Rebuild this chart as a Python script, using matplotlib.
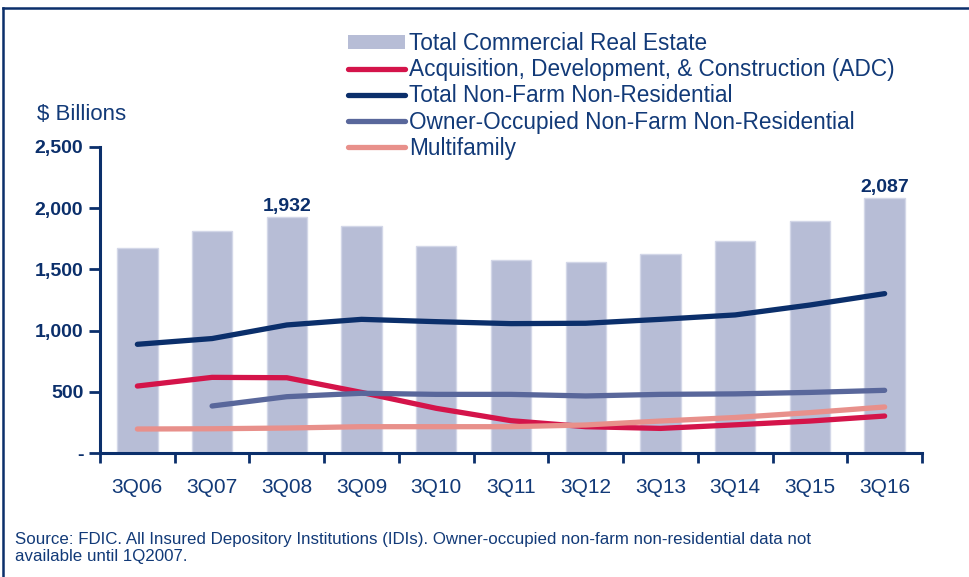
import numpy as np
import matplotlib
matplotlib.use("Agg")
from matplotlib import pyplot, ticker
from matplotlib.lines import Line2D
from matplotlib.patches import Patch

quarters = ["3Q06", "3Q07", "3Q08", "3Q09", "3Q10", "3Q11",
            "3Q12", "3Q13", "3Q14", "3Q15", "3Q16"]
totalCre = [1675, 1814, 1932, 1857, 1689, 1580, 1558, 1623, 1732, 1896, 2087]
adc = [547, 618, 615, 495, 365, 264, 215, 201, 230, 261, 302]
nonFarmNonRes = [888, 935, 1046, 1092, 1073, 1057, 1060, 1092, 1128, 1209, 1302]
ownerOccupied = [np.nan, 384, 460, 488, 479, 479, 466, 479, 483, 495, 512]
multifamily = [196, 198, 204, 215, 215, 215, 229, 261, 290, 330, 376]
labelledBars = [2, 10]

navy = "#0b2f6b"
textColor = "#123a78"
barColor = "#b7bdd6"
redColor = "#d4144a"
ownerColor = "#59679b"
multiColor = "#e8908b"

sans = ["Liberation Sans", "DejaVu Sans"]
narrow = ["Liberation Sans Narrow", "Liberation Sans", "DejaVu Sans"]
pyplot.rcParams["font.family"] = sans

fig = pyplot.figure(figsize=(9.69, 5.77), dpi=100)
ax = fig.add_axes([100 / 969, 1 - 453 / 577, 822 / 969, 306 / 577])

x = np.arange(len(quarters))
ax.bar(x, totalCre, width=0.54, color=barColor, edgecolor="#d3d7e8", linewidth=1, zorder=1)

lineStyle = dict(linewidth=3.8, solid_capstyle="round", solid_joinstyle="round", zorder=3)
ax.plot(x, adc, color=redColor, **lineStyle)
ax.plot(x, nonFarmNonRes, color=navy, **lineStyle)
ax.plot(x, ownerOccupied, color=ownerColor, **lineStyle)
ax.plot(x, multifamily, color=multiColor, **lineStyle)

for i in labelledBars:
    ax.annotate(f"{totalCre[i]:,}", (x[i], totalCre[i]), xytext=(0, 1),
                textcoords="offset points", ha="center", va="bottom",
                fontsize=14, fontweight="bold", color=navy, family=narrow)

ax.set_xlim(-0.5, len(quarters) - 0.5)
ax.set_ylim(0, 2500)
ax.set_xticks(np.arange(-0.5, len(quarters), 1.0))
ax.set_xticklabels([])
ax.set_xticks(x, minor=True)
ax.set_xticklabels(quarters, minor=True)
ax.tick_params(axis="x", which="major", length=7, width=2, color=navy, direction="out")
ax.tick_params(axis="x", which="minor", length=0, pad=18, labelsize=15, labelcolor=textColor)

ax.set_yticks(np.arange(0, 2501, 500))
ax.yaxis.set_major_formatter(ticker.FuncFormatter(lambda v, p: "-" if v == 0 else f"{v:,.0f}"))
ax.tick_params(axis="y", length=8, width=2, color=navy, pad=4)
for lbl in ax.get_yticklabels():
    lbl.set_fontfamily(narrow)
    lbl.set_fontweight("bold")
    lbl.set_fontsize(14)
    lbl.set_color(navy)

for side in ["top", "right"]:
    ax.spines[side].set_visible(False)
for side in ["left", "bottom"]:
    ax.spines[side].set_color(navy)
    ax.spines[side].set_linewidth(2.2)

fig.text(37 / 969, 1 - 115 / 577, "$ Billions", fontsize=16, color=textColor, va="center", ha="left")

handles = [
    Patch(facecolor=barColor, edgecolor="none"),
    Line2D([], [], color=redColor, linewidth=3.8, solid_capstyle="round"),
    Line2D([], [], color=navy, linewidth=3.8, solid_capstyle="round"),
    Line2D([], [], color=ownerColor, linewidth=3.8, solid_capstyle="round"),
    Line2D([], [], color=multiColor, linewidth=3.8, solid_capstyle="round"),
]
labels = [
    "Total Commercial Real Estate",
    "Acquisition, Development, & Construction (ADC)",
    "Total Non-Farm Non-Residential",
    "Owner-Occupied Non-Farm Non-Residential",
    "Multifamily",
]
leg = fig.legend(handles, labels, loc="upper left", bbox_to_anchor=(348 / 969, 1 - 32 / 577),
                 frameon=False, fontsize=16.3, handlelength=2.5, handleheight=0.6,
                 handletextpad=0.2, labelspacing=0.14, borderpad=0, borderaxespad=0)
for t in leg.get_texts():
    t.set_color(textColor)

fig.text(15 / 969, 1 - 548 / 577,
         "Source: FDIC. All Insured Depository Institutions (IDIs). Owner-occupied non-farm non-residential data not\navailable until 1Q2007.",
         fontsize=12.2, color=textColor, va="center", ha="left", family=narrow, linespacing=1.22)

# frame (top and left edges of the panel)
fig.add_artist(Line2D([3 / 969, 1], [1 - 8 / 577, 1 - 8 / 577], color=navy, linewidth=1.8,
                      transform=fig.transFigure))
fig.add_artist(Line2D([3 / 969, 3 / 969], [0, 1 - 8 / 577], color=navy, linewidth=1.8,
                      transform=fig.transFigure))

fig.savefig("out.png", dpi=100)
